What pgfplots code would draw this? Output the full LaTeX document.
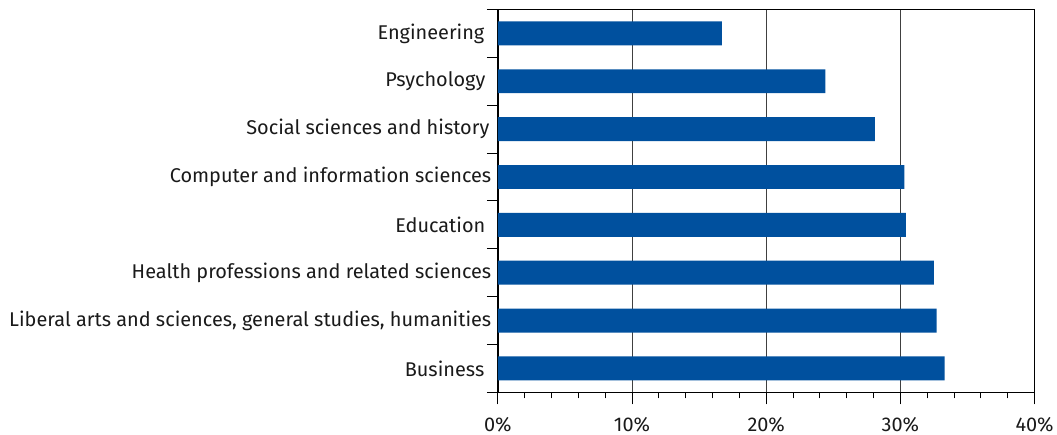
\documentclass[border=0pt]{standalone}
\usepackage{pgfplots}
\pgfplotsset{compat=1.18}
\usepackage{fontspec}
\setmainfont{Fira Sans}
\definecolor{barblue}{RGB}{0,80,158}
\definecolor{txt}{RGB}{26,26,26}
\begin{document}
\begin{tikzpicture}
\begin{axis}[
  scale only axis,
  width=537pt, height=383pt,
  xmin=0, xmax=40, ymin=-0.5, ymax=7.5,
  xbar, bar width=0.5,
  xtick={0,10,20,30,40},
  minor xtick={2,4,6,8,12,14,16,18,22,24,26,28,32,34,36,38},
  xticklabel={\pgfmathprintnumber{\tick}\%},
  /pgf/number format/assume math mode=true,
  xtick pos=bottom, tick align=outside,
  xmajorgrids, major grid style={draw=black!75, line width=0.8pt},
  major x tick style={draw=black, line width=0.9pt},
  minor x tick style={draw=black, line width=0.9pt},
  major tick length=12pt, minor tick length=6pt,
  ytick={0,...,7},
  yticklabels={Business\kern7pt,
    {Liberal arts and sciences, general studies, humanities},
    Health professions and related sciences,
    Education\kern6pt,
    Computer and information sciences,
    Social sciences and history\kern2pt,
    Psychology\kern6pt,
    Engineering\kern7pt},
  major y tick style={draw=none},
  extra y ticks={-0.5,0.5,...,7.5},
  extra y tick labels={},
  extra y tick style={major y tick style={draw=black, line width=0.9pt}, major tick length=11pt, tick align=outside, ytick pos=left},
  ytick pos=left,
  axis line style={line width=1.4pt},
  tick label style={font=\fontsize{19.9}{22}\selectfont, text=txt},
  xticklabel style={yshift=-9pt},
  yticklabel style={xshift=9pt},
]
\addplot[fill=barblue, draw=none] coordinates {
 (33.3,0) (32.7,1) (32.5,2) (30.4,3) (30.3,4) (28.1,5) (24.4,6) (16.7,7)};
\end{axis}
\path ([xshift=-498pt,yshift=9.5pt]current axis.north west) rectangle ([xshift=22pt,yshift=-38.3pt]current axis.south east);
\end{tikzpicture}
\end{document}
